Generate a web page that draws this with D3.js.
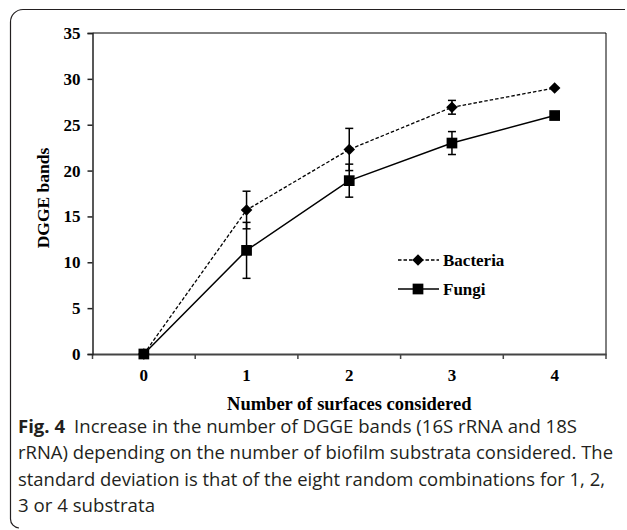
<!DOCTYPE html>
<html>
<head>
<meta charset="utf-8">
<script src="https://cdn.jsdelivr.net/npm/d3@7"></script>
<style>
  body { margin: 0; background: #fff; }
  .tick text { font-family: "Liberation Serif", "Times New Roman", serif; font-weight: bold; font-size: 17px; fill: #000; }
  .caption { font-family: "Open Sans", "Noto Sans", sans-serif; font-size: 18.5px; fill: #231f20; }
</style>
</head>
<body>
<div id="chart"></div>
<script>
// datos del gráfico
const surfaces = ["0", "1", "2", "3", "4"]
const bacteria = [0, 15.7, 22.3, 26.9, 29.0]
const bacteriaSd = [0, 2.05, 2.3, 0.75, 0]
const fungi = [0, 11.3, 18.9, 23.0, 26.0]
const fungiSd = [0, 3.05, 1.8, 1.25, 0]
const yTicks = [0, 5, 10, 15, 20, 25, 30, 35]
const captionLines = [
  "Increase in the number of DGGE bands (16S rRNA and 18S",
  "rRNA) depending on the number of biofilm substrata considered. The",
  "standard deviation is that of the eight random combinations for 1, 2,",
  "3 or 4 substrata"
]

const width = 627
const height = 530
const margin = { top: 33, left: 92.5, right: 21, bottom: 176 }
const innerW = width - margin.left - margin.right
const innerH = height - margin.top - margin.bottom

const svg = d3.select("#chart").append("svg").attr("width", width).attr("height", height)

// marco redondeado
svg.append("path")
  .attr("d", "M625,9.5 H23 A12.5,12.5 0 0 0 10.5,22 V519 A9,9 0 0 0 19,528")
  .attr("fill", "none").attr("stroke", "#231f20").attr("stroke-width", 1.2)

const g = svg.append("g").attr("transform", `translate(${margin.left},${margin.top})`)

const x = d3.scaleBand().domain(surfaces).range([0, innerW])
const y = d3.scaleLinear().domain([0, 35]).range([innerH, 0])
const cx = d => x(d) + x.bandwidth() / 2

// borde superior y derecho del área
g.append("path")
  .attr("d", `M0,0 H${innerW} V${innerH}`)
  .attr("fill", "none").attr("stroke", "#000").attr("stroke-width", 1)

const xAxis = g.append("g").attr("transform", `translate(0,${innerH})`)
  .call(d3.axisBottom(x).tickSize(0).tickPadding(15))
xAxis.select(".domain").attr("stroke", "#444").attr("stroke-width", 2)
// marcas entre categorías
xAxis.selectAll(".sep").data(d3.range(surfaces.length + 1)).join("line")
  .attr("x1", i => i * x.bandwidth()).attr("x2", i => i * x.bandwidth())
  .attr("y1", 0).attr("y2", 5).attr("stroke", "#444").attr("stroke-width", 1.5)

const yAxis = g.append("g")
  .call(d3.axisLeft(y).tickValues(yTicks).tickSize(5).tickPadding(7))
yAxis.select(".domain").attr("stroke", "#222").attr("stroke-width", 1.5)
yAxis.selectAll(".tick line").attr("stroke", "#222").attr("stroke-width", 1.5)

// títulos de ejes
svg.append("text")
  .attr("transform", `translate(49,198) rotate(-90)`)
  .attr("text-anchor", "middle")
  .style("font-family", "Liberation Serif, serif").style("font-weight", "bold").style("font-size", "17.5px")
  .text("DGGE bands")
svg.append("text")
  .attr("x", margin.left + innerW / 2).attr("y", 410)
  .attr("text-anchor", "middle")
  .style("font-family", "Liberation Serif, serif").style("font-weight", "bold").style("font-size", "18.5px")
  .text("Number of surfaces considered")

const line = d3.line().x((d, i) => cx(surfaces[i])).y(d => y(d))

// barras de error
function errorBars(vals, sds) {
  const eb = g.append("g")
  surfaces.forEach((s, i) => {
    if (!sds[i]) return
    const px = cx(s)
    const lo = y(vals[i] - sds[i]), hi = y(vals[i] + sds[i])
    eb.append("line").attr("x1", px).attr("x2", px).attr("y1", lo).attr("y2", hi)
      .attr("stroke", "#000").attr("stroke-width", 1.5)
    ;[lo, hi].forEach(v => eb.append("line")
      .attr("x1", px - 4).attr("x2", px + 4).attr("y1", v).attr("y2", v)
      .attr("stroke", "#000").attr("stroke-width", 1.5))
  })
}
errorBars(fungi, fungiSd)
errorBars(bacteria, bacteriaSd)

g.append("path").datum(bacteria).attr("d", line)
  .attr("fill", "none").attr("stroke", "#000").attr("stroke-width", 1.3).attr("stroke-dasharray", "3.5,2")
g.append("path").datum(fungi).attr("d", line)
  .attr("fill", "none").attr("stroke", "#000").attr("stroke-width", 1.5)

const diamond = d3.symbol().type(d3.symbolDiamond2).size(85)
const square = d3.symbol().type(d3.symbolSquare).size(115)

g.selectAll(".bac").data(bacteria).join("path")
  .attr("d", diamond)
  .attr("transform", (d, i) => `translate(${cx(surfaces[i])},${y(d)})`)
  .attr("fill", "#000")
g.selectAll(".fun").data(fungi).join("path")
  .attr("d", square)
  .attr("transform", (d, i) => `translate(${cx(surfaces[i])},${y(d)})`)
  .attr("fill", "#000")

// leyenda
const legend = svg.append("g").attr("transform", "translate(398,260)")
const legendItems = [
  { name: "Bacteria", dash: "3.5,2", sym: diamond },
  { name: "Fungi", dash: null, sym: square }
]
legendItems.forEach((it, i) => {
  const row = legend.append("g").attr("transform", `translate(0,${i * 29})`)
  row.append("line").attr("x1", 0).attr("x2", 41).attr("y1", 0).attr("y2", 0)
    .attr("stroke", "#000").attr("stroke-width", 1.4).attr("stroke-dasharray", it.dash)
  row.append("path").attr("d", it.sym).attr("transform", "translate(20,0)").attr("fill", "#000")
  row.append("text").attr("x", 45).attr("y", 5.5)
    .style("font-family", "Liberation Serif, serif").style("font-weight", "bold").style("font-size", "17px")
    .text(it.name)
})

// pie de figura (anchos ajustados a las líneas del original)
const captionWidths = [559, 595, 587, 137]
const cap = svg.append("g")
captionLines.forEach((t, i) => {
  const tx = cap.append("text").attr("class", "caption").attr("x", 18).attr("y", 433 + i * 26.3)
    .attr("textLength", captionWidths[i]).attr("lengthAdjust", "spacingAndGlyphs")
  if (i === 0) {
    tx.append("tspan").style("font-weight", "bold").text("Fig. 4")
    tx.append("tspan").attr("dx", 9).text(t)
  } else {
    tx.text(t)
  }
})
</script>
</body>
</html>
